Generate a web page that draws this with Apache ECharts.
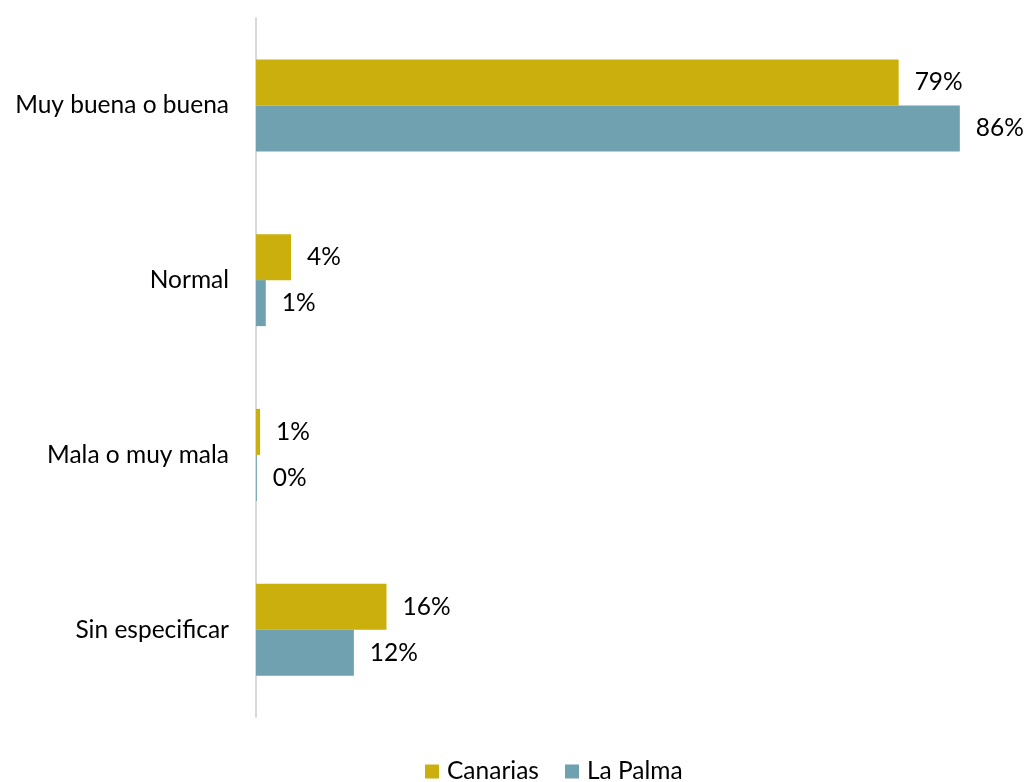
<!DOCTYPE html>
<html>
<head>
<meta charset="utf-8">
<script src="https://cdn.jsdelivr.net/npm/echarts@6/dist/echarts.min.js"></script>
<style>html,body{margin:0;padding:0;background:#fff;}#chart{width:1024px;height:782px;}</style>
</head>
<body>
<div id="chart"></div>
<script>
const categories = ['Muy buena o buena', 'Normal', 'Mala o muy mala', 'Sin especificar'];
const seriesNames = ['Canarias', 'La Palma'];
const canarias = [78.8, 4.3, 0.5, 16.0];
const laPalma = [86.3, 1.2, 0.1, 12.0];
const colors = ['#CBAF0C', '#6FA1B0'];
const FONT = 'Lato, "Liberation Sans", sans-serif';
const FS = 24.5;

const chart = echarts.init(document.getElementById('chart'), null, {renderer: 'canvas'});
const labelOpt = {
  show: true, position: 'right', distance: 16,
  color: '#000', fontSize: FS, fontFamily: FONT,
  formatter: p => Math.round(p.value) + '%'
};
chart.setOption({
  animation: false,
  backgroundColor: '#fff',
  color: colors,
  grid: {left: 256, right: 34, top: 18, bottom: 65, containLabel: false},
  legend: {
    data: seriesNames, top: 759, left: 425, padding: 0,
    itemWidth: 14, itemHeight: 14, itemGap: 26, icon: 'rect',
    textStyle: {color: '#000', fontSize: FS, fontFamily: FONT, padding: [0, 0, 0, 3]}
  },
  xAxis: {type: 'value', min: 0, max: 90, show: false},
  yAxis: {
    type: 'category', data: categories, inverse: true,
    axisLine: {show: true, lineStyle: {color: '#D9D9D9', width: 2}},
    axisTick: {show: false},
    axisLabel: {color: '#000', fontSize: FS, fontFamily: FONT, margin: 27}
  },
  series: [
    {name: seriesNames[0], type: 'bar', data: canarias, barWidth: 46, barGap: '0%', label: labelOpt},
    {name: seriesNames[1], type: 'bar', data: laPalma, barWidth: 46, barGap: '0%', label: labelOpt}
  ]
});
</script>
</body>
</html>
